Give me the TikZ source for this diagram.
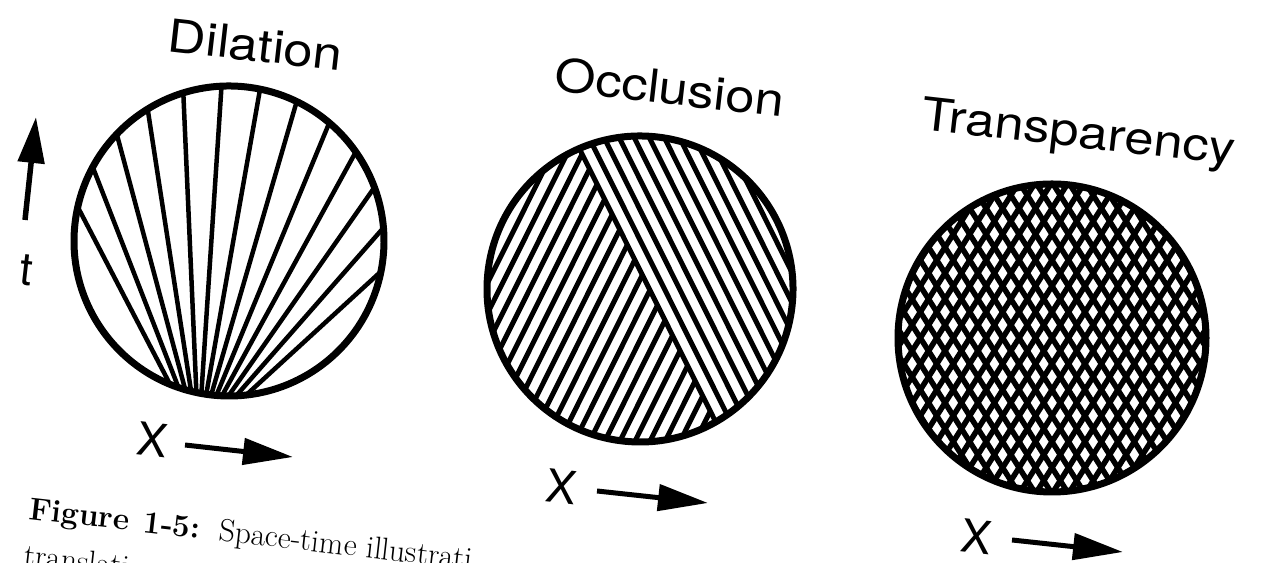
\documentclass[tikz,border=0pt]{standalone}
\usepackage{fontspec}
\newfontfamily\heros{TeX Gyre Heros}
\usetikzlibrary{arrows.meta,calc}

\begin{document}
\begin{tikzpicture}[x=0.02cm,y=0.02cm,
    title/.style={font=\heros\fontsize{26}{30}\selectfont,rotate=-6.5,xscale=1.15,anchor=base,inner sep=0pt},
    axlabel/.style={font=\heros\fontsize{26}{30}\selectfont,rotate=-6.5,inner sep=0pt},
    caption/.style={font=\fontsize{18}{21}\selectfont,rotate=-6.5,anchor=base west,inner sep=0pt},
    rim/.style={line width=0.14cm},
    ray/.style={line width=0.09cm},
    hatch/.style={line width=0.1cm},
    mesh/.style={line width=0.11cm},
    axarrow/.style={line width=0.1cm,-{Triangle[length=1cm,width=0.52cm]}}]
  \useasboundingbox[fill=white] (0,0) rectangle (1265,563);

  % titles
  \node[title] (dil) at (254,502) {Dilation};
  \node[title] (occ) at (668,459) {Occlusion};
  \node[title] (tra) at (1077,416) {Transparency};

  % time axis
  \coordinate (tTail) at (25,343);
  \coordinate (tTip) at (36,446);
  \draw[line width=0.11cm,-{Triangle[length=0.92cm,width=0.52cm]}] (tTail) -- (tTip);
  \node[axlabel] (tlab) at (27,293) {t};

  % dilation
  \begin{scope}[shift={(229,322)},rotate=-6.5]
    \coordinate (dilF) at (-8,-200);
    \begin{scope}
      \clip (0,0) circle[radius=155];
      \foreach \i in {0,...,12}
        \draw[ray] (dilF) -- ++({124-6.25*\i}:450);
    \end{scope}
    \draw[rim] (0,0) circle[radius=155];
  \end{scope}

  % occlusion
  \begin{scope}[shift={(640,274)},rotate=-6.5]
    \coordinate (occB) at (10,0);
    \begin{scope}
      \clip (0,0) circle[radius=153];
      \foreach \k in {0,...,13}
        \draw[hatch] ($(occB)+(33:{13.5*\k})$) ++(123:260) -- ++(-57:520);
      % layer behind the edge
      \clip ($(occB)+(123:400)$) -- ($(occB)+(-57:400)$) -- ++(213:600) -- ++(123:800) -- cycle;
      \foreach \j in {-14,...,14}
        \draw[hatch] ($(occB)+(-20:{13.5*\j})$) ++(250:260) -- ++(70:520);
    \end{scope}
    \draw[rim] (0,0) circle[radius=153];
  \end{scope}

  % transparency
  \begin{scope}[shift={(1052,225)}]
    \begin{scope}
      \clip (0,0) circle[radius=154];
      \foreach \k in {-13,...,13}{
        \draw[mesh] (-32.4:{13.9*\k}) ++(57.6:200) -- ++(237.6:400);
        \draw[mesh] (32.4:{13.9*\k}) ++(122.4:200) -- ++(302.4:400);
      }
    \end{scope}
    \draw[rim] (0,0) circle[radius=154];
  \end{scope}

  % space axes
  \foreach \nm/\lx/\ly/\ax/\ay/\bx/\by in {D/153/123/185/118/293/106,O/562/76/597/72/708/60,T/977/26/1012/23/1123/11}{
    \node[axlabel] (x\nm) at (\lx,\ly) {X};
    \coordinate (s\nm) at (\ax,\ay);
    \coordinate (e\nm) at (\bx,\by);
    \draw[axarrow] (s\nm) -- (e\nm);
  }

  % caption
  \node[caption] (cap) at (28,44) {\textbf{Figure\hspace{0.45em}1-5:}\hspace{0.6em}Space-time illustrati};
  \node[caption] (cap2) at (23,-2) {translati};
\end{tikzpicture}
\end{document}
